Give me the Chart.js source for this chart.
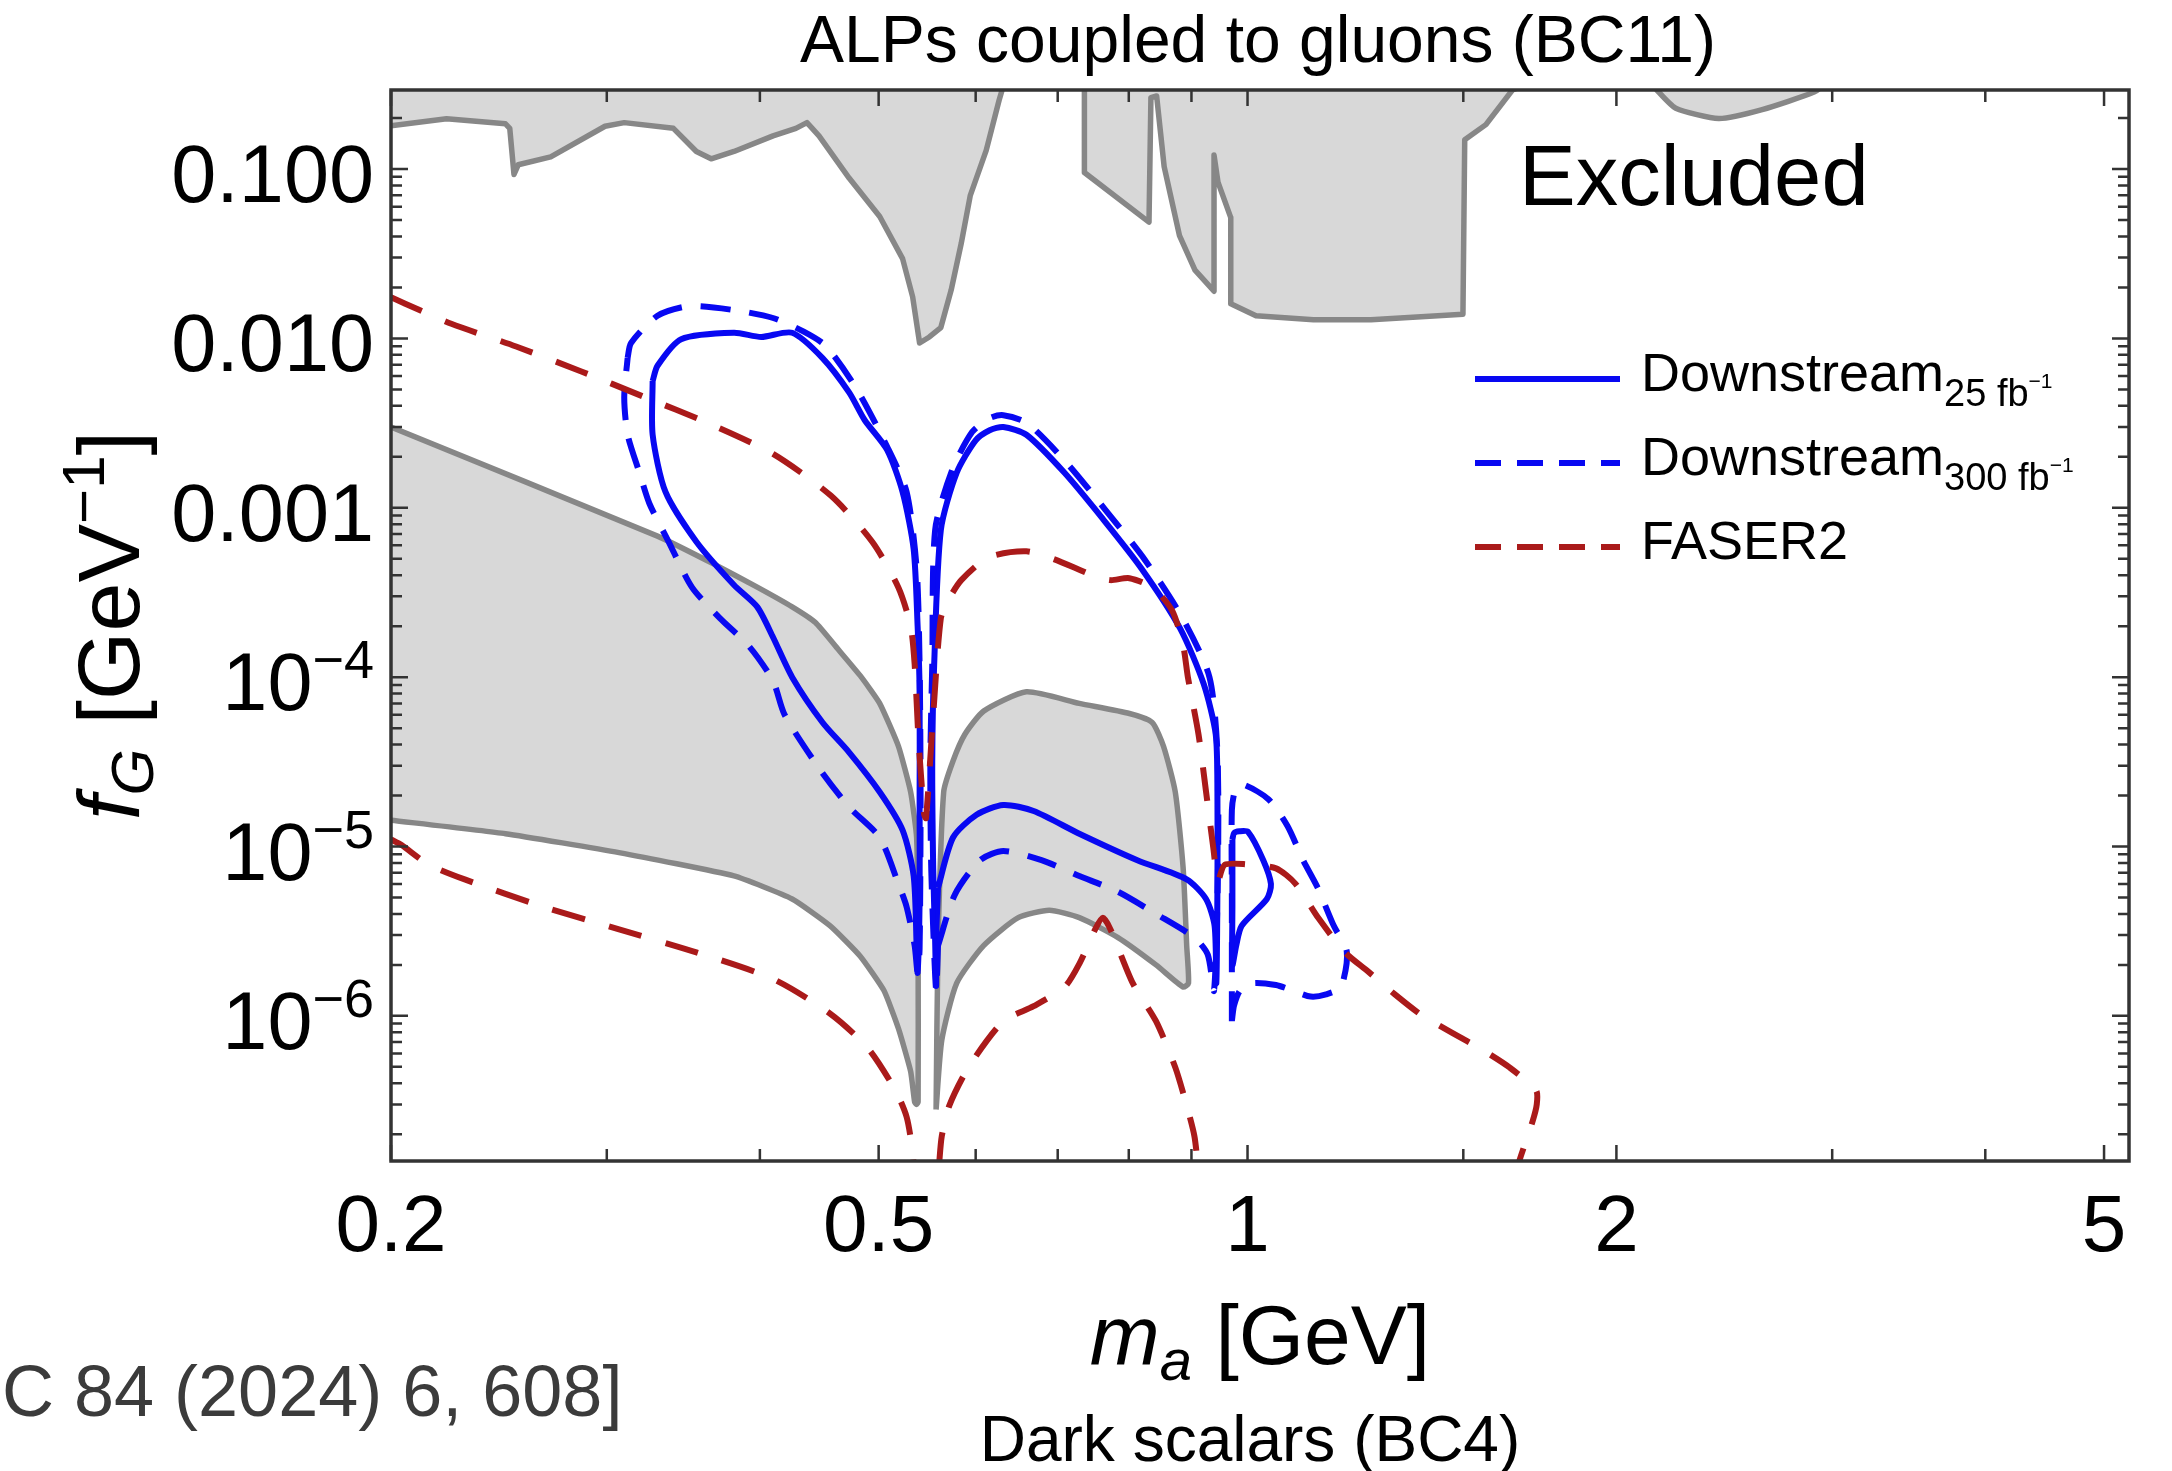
<!DOCTYPE html>
<html lang="en">
<head>
<meta charset="utf-8">
<title>ALPs coupled to gluons (BC11)</title>
<script src="https://cdn.jsdelivr.net/npm/chart.js@4.4.1/dist/chart.umd.min.js"></script>
<style>
  html, body { margin: 0; padding: 0; background: #fff; }
  #wrap { width: 2172px; height: 1471px; }
</style>
</head>
<body>
<div id="wrap"><canvas id="chart" width="2172" height="1471"></canvas></div>
<script>
// ---- data (m_a in GeV, f_G in GeV^-1) ----

// grey excluded regions (closed outlines)
const excludedTopLeftX = [0.2, 0.222, 0.248, 0.250, 0.252, 0.254, 0.270, 0.299, 0.310, 0.340, 0.355, 0.365, 0.381, 0.410, 0.428, 0.437, 0.447, 0.473, 0.501, 0.523, 0.533, 0.540, 0.550, 0.562, 0.573, 0.584, 0.594, 0.612, 0.627, 0.632, 0.632, 0.2];
const excludedTopLeftY = [0.18, 0.198, 0.185, 0.174, 0.093, 0.106, 0.118, 0.179, 0.188, 0.174, 0.127, 0.115, 0.127, 0.157, 0.174, 0.188, 0.157, 0.0885, 0.0525, 0.0296, 0.0176, 0.0094, 0.0102, 0.0116, 0.0193, 0.0365, 0.070, 0.129, 0.255, 0.31, 1, 1];

const excludedTopMidX = [0.736, 0.736, 0.831, 0.834, 0.843, 0.855, 0.880, 0.906, 0.939, 0.939, 0.946, 0.969, 0.969, 1.016, 1.132, 1.261, 1.499, 1.504, 1.565, 1.645, 1.66, 1.66];
const excludedTopMidY = [1, 0.0955, 0.0486, 0.264, 0.270, 0.1034, 0.0405, 0.0253, 0.0190, 0.121, 0.0838, 0.0517, 0.0160, 0.0136, 0.0129, 0.0129, 0.0139, 0.149, 0.183, 0.293, 0.30, 1];

const excludedTopRightX = [2.14, 2.158, 2.236, 2.424, 2.63, 2.90, 2.95, 2.95, 2.14];
const excludedTopRightY = [0.32, 0.293, 0.229, 0.199, 0.2245, 0.285, 0.32, 1, 1];

const excludedBandX = [0.2, 0.330, 0.368, 0.398, 0.425, 0.444, 0.463, 0.483, 0.501, 0.519, 0.531, 0.537, 0.5385, 0.5385, 0.537, 0.535, 0.531, 0.519, 0.505, 0.483, 0.4565, 0.425, 0.381, 0.307, 0.248, 0.2];
const excludedBandY = [3.0e-3, 6.8e-4, 4.6e-4, 3.4e-4, 2.6e-4, 2.1e-4, 1.47e-4, 1.02e-4, 7.0e-5, 3.9e-5, 2.1e-5, 1.13e-5, 2.6e-6, 3.1e-7, 3.0e-7, 3.1e-7, 4.7e-7, 8.4e-7, 1.41e-6, 2.25e-6, 3.4e-6, 4.9e-6, 6.7e-6, 9.2e-6, 1.19e-5, 1.43e-5];

const excludedLobeX = [0.557, 0.559, 0.565, 0.575, 0.588, 0.609, 0.660, 0.729, 0.801, 0.836, 0.854, 0.873, 0.886, 0.892, 0.895, 0.886, 0.842, 0.784, 0.729, 0.689, 0.650, 0.609, 0.579, 0.563, 0.557];
const excludedLobeY = [2.8e-7, 2.6e-6, 2.1e-5, 3.2e-5, 4.6e-5, 6.3e-5, 8.2e-5, 7.0e-5, 6.1e-5, 5.4e-5, 3.9e-5, 2.1e-5, 7.5e-6, 2.6e-6, 1.56e-6, 1.48e-6, 2.0e-6, 2.9e-6, 3.8e-6, 4.2e-6, 3.8e-6, 2.6e-6, 1.56e-6, 7.2e-7, 2.8e-7];

// Downstream 25 fb^-1 (solid blue contours)
const ds25Loop1X = [0.327, 0.330, 0.345, 0.381, 0.401, 0.425, 0.450, 0.473, 0.487, 0.508, 0.523, 0.534, 0.538, 0.540, 0.540, 0.540, 0.538, 0.537, 0.534, 0.523, 0.501, 0.473, 0.450, 0.425, 0.410, 0.398, 0.381, 0.355, 0.335, 0.327, 0.327];
const ds25Loop1Y = [5.6e-3, 6.9e-3, 9.9e-3, 1.08e-2, 1.02e-2, 1.08e-2, 7.65e-3, 4.8e-3, 3.3e-3, 2.2e-3, 1.24e-3, 5.7e-4, 2.0e-4, 8.4e-5, 1.9e-5, 4.8e-6, 1.8e-6, 2.6e-6, 6.7e-6, 1.25e-5, 2.1e-5, 3.6e-5, 5.4e-5, 1.0e-4, 1.72e-4, 2.6e-4, 3.5e-4, 6.3e-4, 1.24e-3, 2.7e-3, 5.6e-3];
const ds25Loop2X = [0.559, 0.557, 0.557, 0.556, 0.554, 0.553, 0.555, 0.562, 0.579, 0.600, 0.616, 0.632, 0.660, 0.709, 0.762, 0.819, 0.881, 0.921, 0.942, 0.945, 0.945, 0.943, 0.940, 0.925, 0.892, 0.813, 0.729, 0.669, 0.632, 0.601, 0.575, 0.559];
const ds25Loop2Y = [5.7e-6, 2.8e-6, 1.5e-6, 2.8e-6, 7.4e-6, 3.2e-5, 1.19e-4, 7.4e-4, 1.61e-3, 2.5e-3, 2.87e-3, 3.0e-3, 2.7e-3, 1.61e-3, 8.6e-4, 4.4e-4, 1.94e-4, 9.1e-5, 4.6e-5, 2.1e-5, 5.7e-6, 1.56e-6, 3.4e-6, 4.9e-6, 6.4e-6, 8.3e-6, 1.19e-5, 1.62e-5, 1.76e-5, 1.54e-5, 1.13e-5, 5.7e-6];
const ds25Loop3X = [0.972, 0.975, 0.985, 1.001, 1.030, 1.045, 1.037, 0.989, 0.979, 0.972, 0.972, 0.972];
const ds25Loop3Y = [1.1e-5, 1.2e-5, 1.23e-5, 1.22e-5, 8.3e-6, 6.0e-6, 4.9e-6, 3.4e-6, 2.6e-6, 2.0e-6, 4.4e-6, 1.1e-5];

// Downstream 300 fb^-1 (dashed blue contours)
const ds300Loop1X = [0.312, 0.314, 0.330, 0.350, 0.381, 0.410, 0.434, 0.453, 0.480, 0.508, 0.527, 0.537, 0.540, 0.541, 0.540, 0.538, 0.535, 0.527, 0.519, 0.501, 0.473, 0.447, 0.419, 0.410, 0.392, 0.371, 0.352, 0.337, 0.325, 0.319, 0.312, 0.310, 0.312];
const ds300Loop1Y = [7.7e-3, 9.4e-3, 1.36e-2, 1.55e-2, 1.47e-2, 1.32e-2, 1.10e-2, 9.0e-3, 5.0e-3, 2.3e-3, 1.24e-3, 4.4e-4, 1.19e-4, 1.87e-5, 2.5e-6, 1.8e-6, 2.6e-6, 4.4e-6, 6.0e-6, 1.13e-5, 1.71e-5, 2.9e-5, 6.0e-5, 9.5e-5, 1.52e-4, 2.23e-4, 3.4e-4, 6.3e-4, 1.06e-3, 1.61e-3, 2.7e-3, 4.5e-3, 7.7e-3];
const ds300Loop2X = [0.559, 0.557, 0.552, 0.551, 0.553, 0.556, 0.574, 0.596, 0.616, 0.632, 0.661, 0.711, 0.765, 0.825, 0.886, 0.931, 0.945, 0.946, 0.939, 0.928, 0.905, 0.842, 0.784, 0.729, 0.679, 0.632, 0.605, 0.577, 0.559];
const ds300Loop2Y = [2.6e-6, 1.41e-6, 7.2e-6, 3.2e-5, 1.19e-4, 7.4e-4, 1.67e-3, 2.8e-3, 3.38e-3, 3.52e-3, 3.16e-3, 1.86e-3, 9.8e-4, 4.9e-4, 2.2e-4, 1.0e-4, 3.6e-5, 7.4e-6, 1.41e-6, 2.3e-6, 2.9e-6, 4.0e-6, 5.4e-6, 6.7e-6, 8.3e-6, 9.4e-6, 8.3e-6, 5.2e-6, 2.6e-6];
const ds300Loop3X = [0.971, 0.971, 0.971, 0.977, 0.990, 1.040, 1.078, 1.110, 1.141, 1.176, 1.205, 1.192, 1.159, 1.126, 1.089, 1.055, 1.010, 0.986, 0.975, 0.971];
const ds300Loop3Y = [9.3e-7, 4.8e-6, 1.64e-5, 2.15e-5, 2.33e-5, 1.9e-5, 1.32e-5, 8.3e-6, 5.7e-6, 3.4e-6, 2.4e-6, 1.48e-6, 1.34e-6, 1.30e-6, 1.41e-6, 1.52e-6, 1.56e-6, 1.41e-6, 1.15e-6, 9.3e-7];

// FASER2 (dashed dark red)
const faserUpperX = [0.2, 0.211, 0.224, 0.253, 0.286, 0.321, 0.363, 0.410, 0.457, 0.494, 0.519, 0.531, 0.535, 0.539, 0.5446, 0.5466, 0.554, 0.562, 0.570, 0.584, 0.615, 0.660, 0.694, 0.751, 0.773, 0.801, 0.837, 0.868, 0.886, 0.894, 0.912, 0.925, 0.938, 0.946, 0.958, 0.997, 1.055, 1.094, 1.142, 1.201, 1.254, 1.319, 1.387, 1.469, 1.556, 1.636, 1.720, 1.722, 1.709, 1.672, 1.662];
const faserUpperY = [1.75e-2, 1.47e-2, 1.22e-2, 8.96e-3, 6.38e-3, 4.55e-3, 3.16e-3, 2.08e-3, 1.18e-3, 6.3e-4, 3.37e-4, 2.0e-4, 1.19e-4, 4.2e-5, 1.55e-5, 1.47e-5, 6.0e-5, 2.23e-4, 2.85e-4, 3.74e-4, 5.11e-4, 5.53e-4, 4.99e-4, 3.94e-4, 3.74e-4, 3.84e-4, 3.37e-4, 2.47e-4, 1.54e-4, 1.0e-4, 4.6e-5, 2.11e-5, 9.65e-6, 6.3e-6, 7.8e-6, 7.85e-6, 7.43e-6, 6.04e-6, 3.79e-6, 2.37e-6, 1.83e-6, 1.34e-6, 1.01e-6, 7.94e-7, 6.28e-7, 4.96e-7, 3.63e-7, 3.0e-7, 2.4e-7, 1.5e-7, 1.31e-7];
const faserLowerX = [0.2, 0.204, 0.2145, 0.230, 0.266, 0.307, 0.355, 0.410, 0.4565, 0.490, 0.516, 0.527, 0.533, 0.534];
const faserLowerY = [1.10e-5, 1.02e-5, 7.85e-6, 6.37e-6, 4.42e-6, 3.24e-6, 2.37e-6, 1.65e-6, 1.03e-6, 6.45e-7, 3.63e-7, 2.53e-7, 1.58e-7, 1.3e-7];
const faserBumpX = [0.560, 0.563, 0.571, 0.592, 0.632, 0.669, 0.709, 0.729, 0.751, 0.762, 0.773, 0.806, 0.842, 0.873, 0.892, 0.905, 0.911];
const faserBumpY = [1.3e-7, 1.95e-7, 2.95e-7, 4.97e-7, 9.3e-7, 1.14e-6, 1.48e-6, 2.03e-6, 3.24e-6, 3.79e-6, 3.24e-6, 1.56e-6, 9.3e-7, 4.97e-7, 2.95e-7, 1.95e-7, 1.3e-7];

// axes
const xRange = [0.2, 5.24];
const yRange = [1.39e-7, 0.293];
const xTickValues = [0.2, 0.5, 1, 2, 5];
const xTickLabels = ['0.2', '0.5', '1', '2', '5'];
const xMinorTicks = [0.3, 0.4, 0.6, 0.7, 0.8, 0.9, 1.5, 3, 4];
const yTickValues = [0.1, 0.01, 0.001, 1e-4, 1e-5, 1e-6];
const yTickBase = ['0.100', '0.010', '0.001', '10', '10', '10'];
const yTickExp = ['', '', '', '\u22124', '\u22125', '\u22126'];
const yMinorSteps = [2, 3, 4, 5, 6, 7, 8, 9];
const yDecades = [-7, -6, -5, -4, -3, -2, -1];

// ---- styles ----
const BLUE = '#0808f2';
const RED = '#aa1a1a';
const GREY_LINE = '#878787';
const GREY_FILL = '#d8d8d8';
const FONT = '"Liberation Sans", Arial, Helvetica, sans-serif';
const BLUE_DASH = [30, 19];
const RED_DASH = [34, 25];

function pts(xs, ys) {
  return xs.map((x, i) => ({ x: x, y: ys[i] }));
}
function region(label, xs, ys, tension) {
  return {
    label: label, data: pts(xs, ys), showLine: true, pointRadius: 0,
    borderColor: GREY_LINE, borderWidth: 5.5, backgroundColor: GREY_FILL,
    borderJoinStyle: 'round', fill: 'shape', tension: tension, order: 10
  };
}
function contour(label, xs, ys, color, dash, order) {
  return {
    label: label, data: pts(xs, ys), showLine: true, pointRadius: 0,
    borderColor: color, borderWidth: 6, borderDash: dash, fill: false,
    borderCapStyle: 'butt', borderJoinStyle: 'round', tension: 0.25, order: order
  };
}

function fontOf(p) {
  return (p.italic ? 'italic ' : '') + p.size + 'px ' + FONT;
}
function richWidth(ctx, parts) {
  let w = 0;
  parts.forEach(p => { ctx.font = fontOf(p); w += ctx.measureText(p.t).width; });
  return w;
}
function drawRich(ctx, parts, x, y, align) {
  const w = richWidth(ctx, parts);
  let cx = align === 'center' ? x - w / 2 : (align === 'right' ? x - w : x);
  ctx.textAlign = 'left';
  ctx.textBaseline = 'alphabetic';
  parts.forEach(p => {
    ctx.font = fontOf(p);
    ctx.fillText(p.t, cx, y + (p.dy || 0));
    cx += ctx.measureText(p.t).width;
  });
}

const decor = {
  id: 'decor',
  beforeDraw(chart) {
    const ctx = chart.ctx;
    ctx.save();
    ctx.fillStyle = '#ffffff';
    ctx.fillRect(0, 0, chart.width, chart.height);
    ctx.restore();
  },
  afterDraw(chart) {
    const ctx = chart.ctx;
    const a = chart.chartArea;
    const xs = chart.scales.x, ys = chart.scales.y;
    ctx.save();

    // frame
    ctx.strokeStyle = '#333333';
    ctx.lineWidth = 3.5;
    ctx.strokeRect(a.left, a.top, a.right - a.left, a.bottom - a.top);

    // ticks (inward, all four sides)
    ctx.lineWidth = 2.5;
    function xTick(v, len) {
      const px = xs.getPixelForValue(v);
      ctx.beginPath();
      ctx.moveTo(px, a.bottom); ctx.lineTo(px, a.bottom - len);
      ctx.moveTo(px, a.top); ctx.lineTo(px, a.top + len);
      ctx.stroke();
    }
    function yTick(v, len) {
      const py = ys.getPixelForValue(v);
      ctx.beginPath();
      ctx.moveTo(a.left, py); ctx.lineTo(a.left + len, py);
      ctx.moveTo(a.right, py); ctx.lineTo(a.right - len, py);
      ctx.stroke();
    }
    xTickValues.forEach(v => xTick(v, 16));
    xMinorTicks.forEach(v => xTick(v, 12));
    yTickValues.forEach(v => yTick(v, 17));
    yDecades.forEach(e => yMinorSteps.forEach(k => {
      const v = k * Math.pow(10, e);
      if (v > yRange[0] && v < yRange[1]) yTick(v, 11);
    }));

    ctx.fillStyle = '#000000';
    // x tick labels
    xTickValues.forEach((v, i) => {
      drawRich(ctx, [{ t: xTickLabels[i], size: 80 }], xs.getPixelForValue(v), 1251, 'center');
    });
    // y tick labels
    yTickValues.forEach((v, i) => {
      const py = ys.getPixelForValue(v) + 33;
      const parts = [{ t: yTickBase[i], size: 81 }];
      if (yTickExp[i]) parts.push({ t: yTickExp[i], size: 54, dy: -32 });
      drawRich(ctx, parts, 374, py, 'right');
    });

    // axis titles
    drawRich(ctx, [
      { t: 'm', size: 84, italic: true },
      { t: 'a', size: 58, italic: true, dy: 16 },
      { t: ' [GeV]', size: 84 }
    ], (a.left + a.right) / 2, 1364, 'center');

    ctx.save();
    ctx.translate(139, (a.top + a.bottom) / 2);
    ctx.rotate(-Math.PI / 2);
    drawRich(ctx, [
      { t: 'f', size: 88, italic: true },
      { t: 'G', size: 60, italic: true, dy: 14 },
      { t: ' [GeV', size: 88 },
      { t: '\u22121', size: 60, dy: -35 },
      { t: ']', size: 88 }
    ], 0, 0, 'center');
    ctx.restore();

    // title and captions
    drawRich(ctx, [{ t: 'ALPs coupled to gluons (BC11)', size: 66 }], 1258, 62, 'center');
    drawRich(ctx, [{ t: 'Dark scalars (BC4)', size: 64 }], 1250, 1461, 'center');
    ctx.fillStyle = '#3b3b3b';
    drawRich(ctx, [{ t: 'C 84 (2024) 6, 608]', size: 72 }], 2, 1416, 'left');
    ctx.fillStyle = '#000000';
    drawRich(ctx, [{ t: 'Excluded', size: 85 }], 1519, 205, 'left');

    // legend
    const rows = [
      { color: BLUE, dash: [], sub: '25 fb', base: 'Downstream' },
      { color: BLUE, dash: [26, 16], sub: '300 fb', base: 'Downstream' },
      { color: RED, dash: [26, 16], sub: '', base: 'FASER2' }
    ];
    rows.forEach((r, i) => {
      const ly = 379 + i * 84;
      ctx.strokeStyle = r.color;
      ctx.lineWidth = 6;
      ctx.setLineDash(r.dash);
      ctx.beginPath();
      ctx.moveTo(1475, ly); ctx.lineTo(1620, ly);
      ctx.stroke();
      ctx.setLineDash([]);
      ctx.fillStyle = '#000000';
      const parts = [{ t: r.base, size: 54 }];
      if (r.sub) {
        parts.push({ t: r.sub, size: 38, dy: 15 });
        parts.push({ t: '\u22121', size: 21, dy: -3 });
      }
      drawRich(ctx, parts, 1641, ly + 11.5, 'left');
    });

    ctx.restore();
  }
};

new Chart(document.getElementById('chart'), {
  type: 'scatter',
  data: {
    datasets: [
      contour('FASER2', faserUpperX, faserUpperY, RED, RED_DASH, 1),
      contour('FASER2 lower', faserLowerX, faserLowerY, RED, RED_DASH, 1),
      contour('FASER2 bump', faserBumpX, faserBumpY, RED, RED_DASH, 1),
      contour('Downstream 300', ds300Loop1X, ds300Loop1Y, BLUE, BLUE_DASH, 2),
      contour('Downstream 300 b', ds300Loop2X, ds300Loop2Y, BLUE, BLUE_DASH, 2),
      contour('Downstream 300 c', ds300Loop3X, ds300Loop3Y, BLUE, BLUE_DASH, 2),
      contour('Downstream 25', ds25Loop1X, ds25Loop1Y, BLUE, [], 3),
      contour('Downstream 25 b', ds25Loop2X, ds25Loop2Y, BLUE, [], 3),
      contour('Downstream 25 c', ds25Loop3X, ds25Loop3Y, BLUE, [], 3),
      region('Excluded top left', excludedTopLeftX, excludedTopLeftY, 0),
      region('Excluded top middle', excludedTopMidX, excludedTopMidY, 0),
      region('Excluded top right', excludedTopRightX, excludedTopRightY, 0.2),
      region('Excluded band', excludedBandX, excludedBandY, 0.15),
      region('Excluded lobe', excludedLobeX, excludedLobeY, 0.2)
    ]
  },
  options: {
    responsive: false,
    devicePixelRatio: 1,
    animation: false,
    events: [],
    layout: { padding: { left: 391, right: 43, top: 90, bottom: 310 } },
    plugins: {
      legend: { display: false },
      tooltip: { enabled: false },
      title: { display: false }
    },
    scales: {
      x: { type: 'logarithmic', min: xRange[0], max: xRange[1], display: false },
      y: { type: 'logarithmic', min: yRange[0], max: yRange[1], display: false }
    }
  },
  plugins: [decor]
});
</script>
</body>
</html>
